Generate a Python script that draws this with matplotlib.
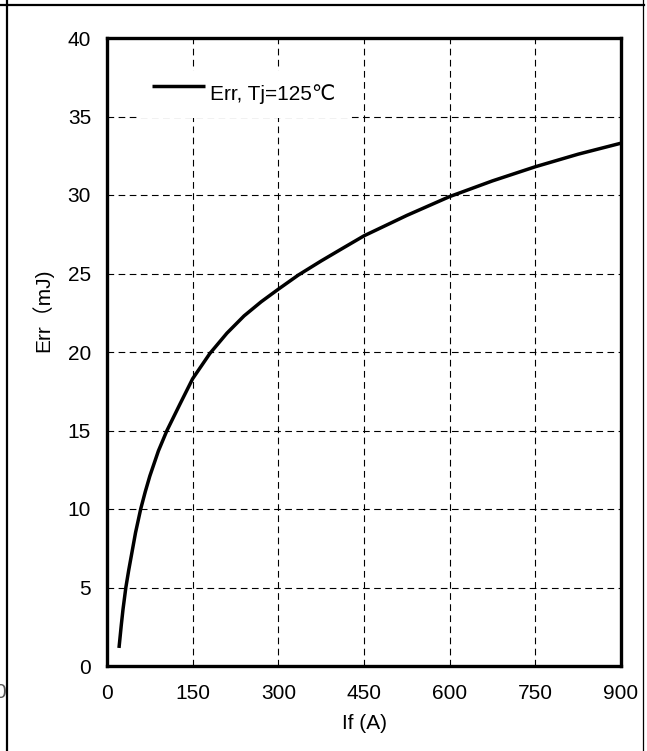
import matplotlib
matplotlib.use("Agg")
import matplotlib.pyplot as plt
from matplotlib.lines import Line2D
import numpy as np

# Data
if_a = [21, 25, 28, 33, 38, 43, 50, 59, 67, 75, 90, 105, 128, 150, 165, 180,
        210, 240, 270, 300, 335, 375, 410, 450, 525, 600, 675, 750, 825, 900]
err_mj = [1.15, 2.6, 3.6, 5.0, 6.1, 7.1, 8.5, 10.0, 11.1, 12.1, 13.7, 15.0, 16.7,
          18.3, 19.1, 19.9, 21.2, 22.3, 23.2, 24.0, 24.9, 25.8, 26.55, 27.4, 28.7,
          29.9, 30.9, 31.8, 32.6, 33.3]
x_ticks = [0, 150, 300, 450, 600, 750, 900]
y_ticks = [0, 5, 10, 15, 20, 25, 30, 35, 40]
series_label = "Err, Tj=125\u2103"

W, H = 647, 751
fig = plt.figure(figsize=(W / 100, H / 100), dpi=100)
fam = ["Liberation Sans", "DejaVu Sans", "Noto Sans CJK SC"]
plt.rcParams["font.family"] = fam
FS = 15

ax = fig.add_axes([107 / W, 1 - 666 / H, (621 - 107) / W, (666 - 38) / H])
ax.plot(if_a, err_mj, color="black", lw=2.5, solid_capstyle="butt",
        label=series_label, zorder=3)

ax.set_xlim(0, 900)
ax.set_ylim(0, 40)
ax.set_xticks(x_ticks)
ax.set_yticks(y_ticks)
ax.tick_params(axis="both", length=0, labelsize=FS, colors="black")
ax.tick_params(axis="y", pad=11.5)
ax.tick_params(axis="x", pad=13)
ax.grid(True, color="black", lw=0.8, linestyle=(0, (6, 4)))
ax.set_axisbelow(True)
for s in ax.spines.values():
    s.set_linewidth(2.4)
    s.set_color("black")

ax.set_xlabel("If (A)", fontsize=FS, labelpad=8)
ax.set_ylabel("Err\uff08mJ)", fontsize=FS)
ax.yaxis.set_label_coords((53 - 107) / 514, (666 - 310) / 628)

leg = ax.legend(loc="upper left", bbox_to_anchor=((138 - 107) / 514, (666 - 71) / 628),
                frameon=True, fontsize=FS, handlelength=2.55, handletextpad=0.24,
                borderpad=0.65, borderaxespad=0, fancybox=False)
leg.get_frame().set_facecolor("white")
leg.get_frame().set_edgecolor("none")
leg.get_frame().set_alpha(1)
ll = leg.get_lines()[0]
ll.set_ydata(np.asarray(ll.get_ydata(), dtype=float) + 5)

# outer frame of the source picture
fig.add_artist(Line2D([7 / W, 7 / W], [0, 1], color="black", lw=1.6))
fig.add_artist(Line2D([0, 644 / W], [1 - 5 / H, 1 - 5 / H], color="black", lw=1.6))
fig.add_artist(Line2D([643 / W, 643 / W], [0, 1], color="black", lw=0.9))
fig.text(0 / W, 1 - 692 / H, "0", fontsize=FS, color="#555555", ha="center", va="center")

fig.savefig("out.png", dpi=100)
